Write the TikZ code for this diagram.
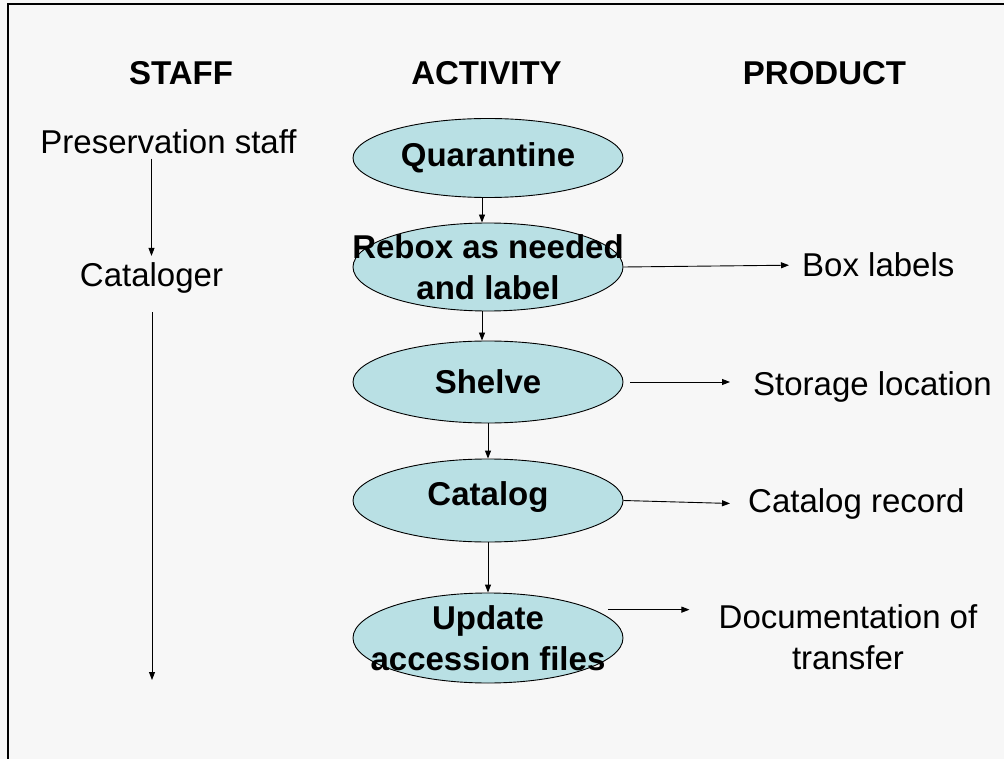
\documentclass[tikz,border=0pt]{standalone}
\usepackage{fontspec}
\setmainfont{Liberation Sans}
\usetikzlibrary{arrows.meta,shapes.geometric}
\definecolor{slidebg}{HTML}{F7F7F7}
\definecolor{actfill}{HTML}{B9E0E4}
\tikzset{
  txt/.style={inner sep=0pt, font=\fontsize{33}{41}\selectfont},
  head/.style={txt, font=\fontsize{33}{41}\selectfont\bfseries},
  % the ellipse keeps its fixed size; wide labels run over its outline
  actv/.style={ellipse, draw=black, line width=0.9pt, fill=actfill,
    minimum width=270pt, inner xsep=-50pt, inner ysep=-12pt, align=center,
    font=\fontsize{33}{40.5}\selectfont\bfseries},
  arr/.style={draw=black, line width=0.9pt, -{Triangle[length=8pt,width=6pt]}}
}
\begin{document}
\begin{tikzpicture}[x=1pt,y=-1pt]
  % page background and frame
  \fill[slidebg] (0,0) rectangle (1004,759);
  \useasboundingbox (0,0) rectangle (1004,759);
  \draw[line width=1.5pt] (8,759) -- (8,4) -- (1004,4);

  % column headings
  \node[head, anchor=base] (hstaff) at (181,85) {STAFF};
  \node[head, anchor=base] (hact) at (486.5,85) {ACTIVITY};
  \node[head, anchor=base] (hprod) at (824.5,85) {PRODUCT};

  % staff column
  \node[txt, anchor=base] (pres) at (168.5,154) {Preservation staff};
  \node[txt, anchor=base] (catl) at (151.5,287) {Cataloger};
  \coordinate (staffend) at (152,680);

  % activity column
  \node[actv, minimum height=79pt] (quar) at (488,158) {Quarantine};
  \node[actv, minimum height=88pt] (rebox) at (488,267) {Rebox as needed\\and label};
  \node[actv, minimum height=82pt] (shelve) at (488,382) {Shelve};
  \node[actv, minimum height=83pt, text height=16pt] (catalog) at (488,500.5) {Catalog};
  \node[actv, minimum height=90pt] (update) at (488,638) {Update\\accession files};

  % product column
  \node[txt, anchor=base west] (boxl) at (802,277) {Box labels};
  \node[txt, anchor=base west] (stor) at (753,395) {Storage location};
  \node[txt, anchor=base west] (crec) at (748,512) {Catalog record};
  \node[txt, anchor=north, align=center, font=\fontsize{33}{41}\selectfont] (doc) at (848,604) {Documentation of\\transfer};

  % staff arrows
  \draw[arr, shorten <=4pt, shorten >=7pt] (pres.south -| catl.center) -- (catl.north);
  \draw[arr, shorten <=18pt] (catl.south -| staffend) -- (staffend);

  % activity sequence
  \draw[arr] ([xshift=-6pt]quar.south) -- ([xshift=-6pt]rebox.north);
  \draw[arr] ([xshift=-6pt]rebox.south) -- ([xshift=-6pt]shelve.north);
  \draw[arr] (shelve.south) -- (catalog.north);
  \draw[arr] (catalog.south) -- (update.north);

  % products
  \draw[arr] (rebox.east) -- ([xshift=-13pt]boxl.west);
  \draw[arr, shorten <=7pt, shorten >=23pt] (shelve.east) -- (shelve.east -| stor.west);
  \draw[arr] (catalog.east) -- ([xshift=-18pt]crec.west);
  \draw[arr, shorten <=14pt, shorten >=29pt] (update.15.7) -- (update.15.7 -| doc.west);
\end{tikzpicture}
\end{document}
